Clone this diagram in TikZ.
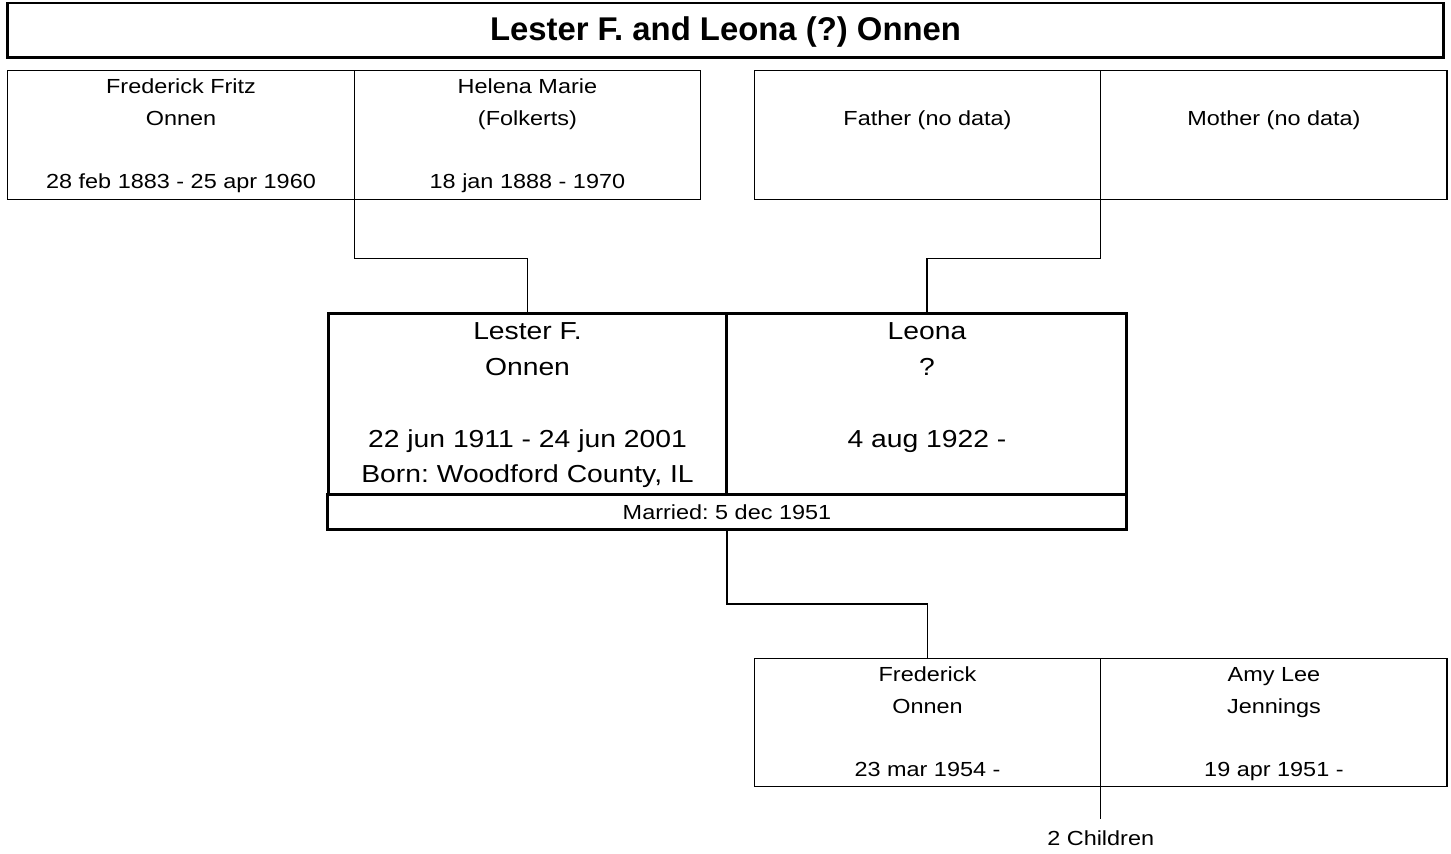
\documentclass[tikz,border=0pt]{standalone}
\usepackage{fontspec}
\setmainfont{Liberation Sans}
\newfontfamily\boxfont{Liberation Sans}[FakeStretch=1.15]
\usepackage{tikz}
\usetikzlibrary{positioning}
\definecolor{linecolor}{RGB}{0,0,0}
\frenchspacing

\begin{document}
\begin{tikzpicture}[x=0.02cm,y=-0.02cm,
    person/.style={draw=linecolor, line width=0.8pt, rectangle, inner sep=0pt, outer sep=0pt,
      align=center, minimum width=6.93cm, minimum height=2.57cm,
      font=\boxfont\fontsize{11.6}{18}\selectfont},
    spouse/.style={draw=linecolor, line width=1.7pt, rectangle, inner sep=0pt, outer sep=0pt,
      align=center, minimum height=3.64cm, font=\boxfont\fontsize{14}{20.4}\selectfont},
    link/.style={draw=linecolor, line width=0.8pt}]
    \useasboundingbox (0,0) rectangle (1451,854);

    % title
    \node[draw=linecolor, line width=1.7pt, inner sep=0pt, minimum width=28.74cm, minimum height=1.1cm,
      text height=13pt, text depth=2pt,
      font=\bfseries\fontsize{18.7}{22}\selectfont] (title) at (725.5,30.5) {Lester F. and Leona (?) Onnen};

    % parents
    \node[person] (hf) at (181,135) {\strut Frederick Fritz\\Onnen\\\mbox{}\\28 feb 1883 - 25 apr 1960\strut};
    \node[person, right=0pt of hf] (hm) {\strut Helena Marie\\(Folkerts)\\\mbox{}\\18 jan 1888 - 1970\strut};
    \node[person] (wf) at (927.5,135) {\strut\\Father (no data)\\\mbox{}\\\mbox{}\strut};
    \node[person, right=0pt of wf] (wm) {\strut\\Mother (no data)\\\mbox{}\\\mbox{}\strut};

    % couple
    \node[spouse, minimum width=7.98cm] (hus) at (527.5,404)
      {\strut Lester F.\\Onnen\\\mbox{}\\22 jun 1911 - 24 jun 2001\\Born: Woodford County, IL\strut};
    \node[spouse, minimum width=8cm, right=0pt of hus] (wife) {\strut Leona\\?\\\mbox{}\\4 aug 1922 -\\\mbox{}\strut};
    \node[draw=linecolor, line width=1.7pt, inner sep=0pt, outer sep=0pt, minimum width=15.98cm,
      minimum height=0.7cm, font=\boxfont\fontsize{11.6}{18}\selectfont,
      below=0pt of hus.south east] (married) {Married: 5 dec 1951};

    % child
    \node[person] (ch) at (927.5,722.5) {\strut Frederick\\Onnen\\\mbox{}\\23 mar 1954 -\strut};
    \node[person, right=0pt of ch] (chw) {\strut Amy Lee\\Jennings\\\mbox{}\\19 apr 1951 -\strut};
    \node[inner sep=6.5pt, font=\boxfont\fontsize{11.6}{18}\selectfont,
      below=0.64cm of ch.south east] (kids) {2 Children};

    \draw[link] (hf.south east) -- ++(0,59) -| (hus.north);
    \draw[link] (wf.south east) -- ++(0,59) -| (wife.north);
    \draw[link] (married.south) -- ++(0,74) -| (ch.north);
    \draw[link] (ch.south east) -- (kids.north);
\end{tikzpicture}
\end{document}
